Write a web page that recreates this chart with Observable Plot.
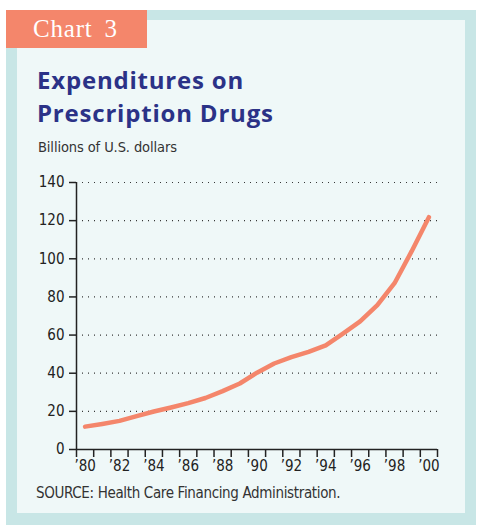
<!DOCTYPE html>
<html><head><meta charset="utf-8">
<script src="https://cdn.jsdelivr.net/npm/d3@7"></script>
<script src="https://cdn.jsdelivr.net/npm/@observablehq/plot@0.6"></script>
<style>
body{margin:0;background:#fff;width:478px;height:526px;position:relative;overflow:hidden}
.abs{position:absolute}
.narrow{font-family:"Liberation Sans Narrow","Arial Narrow","DejaVu Sans Condensed",sans-serif}
#badge{font-family:"Liberation Serif","DejaVu Serif",serif;font-size:25px;color:#fff;line-height:38px;text-indent:27px;letter-spacing:0.8px;word-spacing:5px}
#title{font-family:"Open Sans","Noto Sans",sans-serif;font-weight:700;font-size:24px;line-height:33px;color:#2b3287;left:37px;top:63px;letter-spacing:0.8px}
#sub{left:38px;top:139px;font-size:14.5px;color:#333;letter-spacing:-0.1px}
#source{left:36px;top:484px;font-size:15px;color:#333;letter-spacing:-0.35px}
</style></head><body>
<div class="abs" style="left:6px;top:10px;width:470px;height:515px;background:#c8e6e6"></div>
<div class="abs" style="left:17px;top:20px;width:448px;height:493px;background:#eff8f8"></div>
<div class="abs" id="badge" style="left:6px;top:10px;width:141px;height:38px;background:#f4866b">Chart 3</div>
<div class="abs" id="title">Expenditures on<br>Prescription Drugs</div>
<div class="abs narrow" id="sub">Billions of U.S. dollars</div>
<div class="abs" id="chart" style="left:17px;top:170px"></div>
<div class="abs narrow" id="source">SOURCE: Health Care Financing Administration.</div>
<script>
const years = [1980,1981,1982,1983,1984,1985,1986,1987,1988,1989,1990,1991,1992,1993,1994,1995,1996,1997,1998,1999,2000];
const spending = [12.0,13.4,15.0,17.5,19.9,22.0,24.3,27.0,30.6,34.6,40.3,45.1,48.4,51.2,54.6,60.8,67.2,75.7,87.2,104.0,121.8];
const yTicks = [0,20,40,60,80,100,120,140];
const labelYears = [1980,1982,1984,1986,1988,1990,1992,1994,1996,1998,2000];
const tickLabels = ["\u201980","\u201982","\u201984","\u201986","\u201988","\u201990","\u201992","\u201994","\u201996","\u201998","\u201900"];

const data = years.map((y,i)=>({year:y, value:spending[i]}));
const boundaries = years.map(y=>y-0.5).concat([years[years.length-1]+0.5]);
const labelMap = new Map(labelYears.map((y,i)=>[y,tickLabels[i]]));

const plot = Plot.plot({
  width:448, height:310,
  marginLeft:59, marginRight:28, marginTop:12, marginBottom:31,
  style:{background:"transparent", fontFamily:'"Liberation Sans Narrow","Arial Narrow","DejaVu Sans Condensed",sans-serif', fontSize:"15px", color:"#222"},
  x:{domain:[boundaries[0], boundaries[boundaries.length-1]]},
  y:{domain:[0,140]},
  marks:[
    Plot.gridY(yTicks.filter(v=>v>0), {stroke:"#222", strokeOpacity:0.9, strokeDasharray:"1,5", strokeWidth:1.2}),
    Plot.axisY(yTicks, {tickSize:7, tickPadding:5, label:null, stroke:"#222", strokeWidth:1.5}),
    Plot.axisX(boundaries, {tickSize:8, tickFormat:()=>"", label:null, stroke:"#222", strokeWidth:1.5}),
    Plot.axisX(labelYears, {tickSize:0, tickPadding:11, tickFormat:d=>labelMap.get(d), label:null}),
    Plot.ruleX([boundaries[0]], {y1:0, y2:140, stroke:"#222", strokeWidth:1.5}),
    Plot.ruleY([0], {stroke:"#222", strokeWidth:1.5}),
    Plot.line(data, {x:"year", y:"value", stroke:"#f4866b", strokeWidth:4.5, strokeLinecap:"round", strokeLinejoin:"round"})
  ]
});
document.getElementById("chart").appendChild(plot);
</script>
</body></html>
